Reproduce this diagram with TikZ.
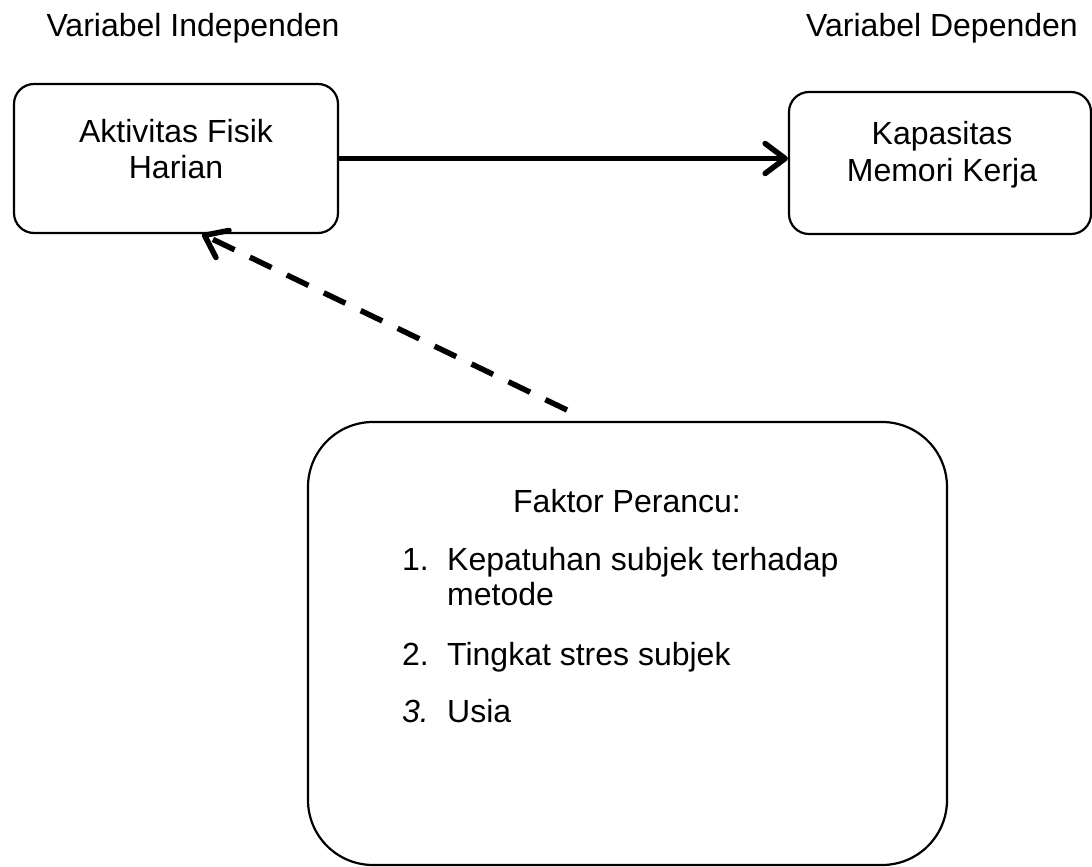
\documentclass[tikz,border=0pt]{standalone}
\usepackage{fontspec}
\setmainfont{Liberation Sans}
\usetikzlibrary{arrows.meta}
\begin{document}
\begin{tikzpicture}[x=1pt,y=-1pt,
  box/.style={draw, line width=2.2pt, inner sep=0pt},
  lbl/.style={font=\fontsize{32}{36}\selectfont, inner sep=0pt, anchor=base},
  lst/.style={font=\fontsize{32}{36}\selectfont, inner sep=0pt, anchor=base west},
  conn/.style={line width=5.5pt, -{Straight Barb[length=20pt,width=30pt,round]}}]
\useasboundingbox (0,0) rectangle (1092,867);
% boxes
\node[box, rounded corners=20pt, minimum width=324pt, minimum height=149pt] (iv) at (176,158.5) {};
\node[box, rounded corners=20pt, minimum width=302pt, minimum height=142pt] (dv) at (940,163) {};
\node[box, rounded corners=65pt, minimum width=639pt, minimum height=443pt] (fk) at (627.5,643.5) {};
% headings
\node[lbl] (tiv) at (193,37) {Variabel Independen};
\node[lbl] (tdv) at (942,37) {Variabel Dependen};
% box texts
\node[lbl] (iv1) at (176,142) {Aktivitas Fisik};
\node[lbl] (iv2) at (176,178) {Harian};
\node[lbl] (dv1) at (942,144) {Kapasitas};
\node[lbl] (dv2) at (942,181) {Memori Kerja};
\node[lbl] (fkt) at (627,512) {Faktor Perancu:};
\node[lst] (n1) at (402,570) {1.};
\node[lst] (i1a) at (447,570) {Kepatuhan subjek terhadap};
\node[lst] (i1b) at (447,605) {metode};
\node[lst] (n2) at (402,665) {2.};
\node[lst] (i2) at (447,665) {Tingkat stres subjek};
\node[lst, font=\fontsize{32}{36}\selectfont\itshape] (n3) at (402,722) {3.};
\node[lst] (i3) at (447,722) {Usia};
% connectors
\draw[conn] (iv.east) -- (iv.east -| dv.west);
\coordinate (dstart) at (567,410);
\coordinate (dx) at (202,0);
\draw[conn, dash pattern=on 24pt off 17pt] (dstart) -- (dx |- iv.south);
\end{tikzpicture}
\end{document}
